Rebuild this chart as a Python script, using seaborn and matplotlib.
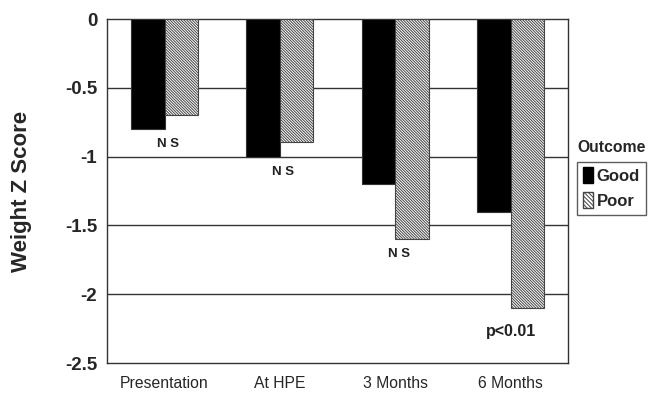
import matplotlib
matplotlib.use("Agg")
import matplotlib.pyplot as plt
import seaborn as sns
import pandas as pd
from matplotlib.patches import Patch

# Weight Z scores by time point and outcome group
timepoints = ["Presentation", "At HPE", "3 Months", "6 Months"]
good_scores = [-0.80, -1.00, -1.20, -1.40]
poor_scores = [-0.70, -0.89, -1.60, -2.10]
stat_labels = ["NS", "NS", "NS", "p<0.01"]
y_ticks = [0, -0.5, -1, -1.5, -2, -2.5]
y_tick_labels = ["0", "-0.5", "-1", "-1.5", "-2", "-2.5"]

df = pd.DataFrame({
    "Time": timepoints * 2,
    "Score": good_scores + poor_scores,
    "Outcome": ["Good"] * len(timepoints) + ["Poor"] * len(timepoints),
})

sns.set_theme(style="white")
plt.rcParams["font.family"] = ["Liberation Sans", "DejaVu Sans"]
plt.rcParams["hatch.color"] = "#555555"
plt.rcParams["hatch.linewidth"] = 0.7

HATCH = "\\" * 12

fig = plt.figure(figsize=(6.48, 3.97), dpi=100)
ax = fig.add_axes([0.165, 0.0856, 0.712, 0.8664])

sns.barplot(
    data=df, x="Time", y="Score", hue="Outcome",
    order=timepoints, hue_order=["Good", "Poor"],
    palette={"Good": "black", "Poor": "white"},
    width=0.58, gap=0, dodge=True, ax=ax, legend=False,
    edgecolor="#333333", linewidth=0.8, errorbar=None, zorder=3,
)

# Hatch the "Poor" bars
for cont, name in zip(ax.containers, ["Good", "Poor"]):
    if name == "Poor":
        for bar in cont:
            bar.set_hatch(HATCH)
            bar.set_facecolor("white")
            bar.set_edgecolor("#444444")

ax.set_ylim(-2.5, 0)
ax.set_xlim(-0.5, len(timepoints) - 0.5)
ax.set_yticks(y_ticks)
ax.set_yticklabels(y_tick_labels, fontsize=13.5, fontweight="bold")
ax.tick_params(axis="y", which="major", direction="out", length=5, width=1, color="#333333", pad=2)
ax.tick_params(axis="x", length=0, pad=9, labelsize=11.3)
ax.set_xlabel("")
ax.set_ylabel("Weight Z Score", fontsize=16, fontweight="bold", labelpad=24)

# Horizontal gridlines behind the bars
for yv in y_ticks[1:-1]:
    ax.axhline(yv, color="#333333", lw=1.0, zorder=1)

for sp in ax.spines.values():
    sp.set_visible(True)
    sp.set_color("#333333")
    sp.set_linewidth(1.0)

# Significance labels under each pair of bars
for i, lab in enumerate(stat_labels):
    low = min(good_scores[i], poor_scores[i])
    if lab == "NS":
        ax.text(i + 0.03, low - 0.11, "N S", ha="center", va="center",
                fontsize=9.5, fontweight="bold", color="#222222")
    else:
        ax.text(i, low - 0.17, lab, ha="center", va="center",
                fontsize=11.5, fontweight="bold", color="#222222")

# Legend with its title above the frame
handles = [
    Patch(facecolor="black", edgecolor="black", label="Good"),
    Patch(facecolor="white", edgecolor="#444444", hatch="\\" * 8, label="Poor"),
]
fig.text(0.9445, 0.628, "Outcome", ha="center", va="center",
         fontsize=11.3, fontweight="bold")
leg = fig.legend(
    handles=handles, loc="upper left", bbox_to_anchor=(0.890, 0.593),
    frameon=True, fancybox=False, fontsize=12,
    handlelength=0.6, handleheight=1.1, handletextpad=0.25,
    borderpad=0.35, labelspacing=0.5, borderaxespad=0,
)
leg.get_frame().set_edgecolor("#333333")
leg.get_frame().set_linewidth(1.0)
for t in leg.get_texts():
    t.set_fontweight("bold")

fig.savefig("out.png", dpi=100)
